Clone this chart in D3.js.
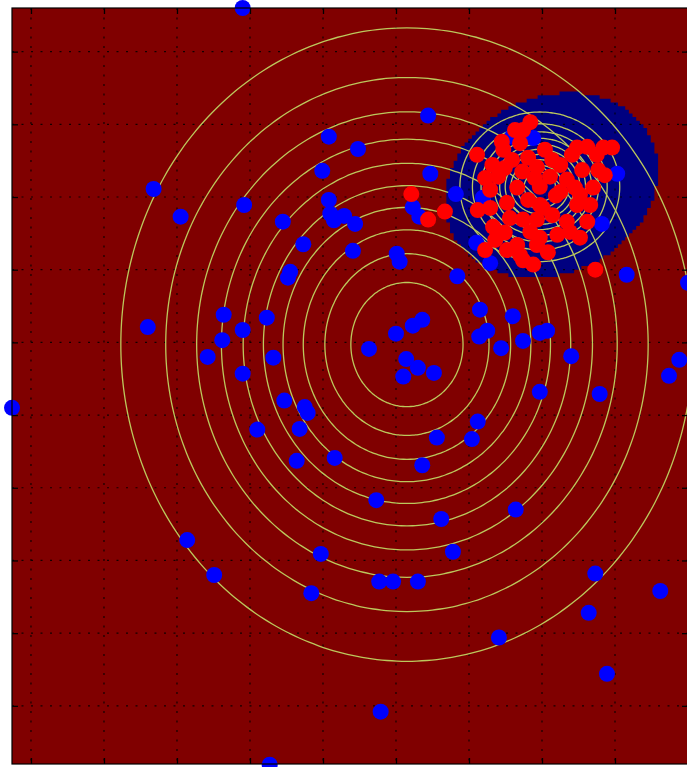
<!DOCTYPE html>
<html>
<head>
<meta charset="utf-8">
<script src="https://cdn.jsdelivr.net/npm/d3@7"></script>
<style>
  html, body { margin: 0; padding: 0; background: #ffffff; }
  svg { display: block; }
</style>
</head>
<body>
<svg id="chart" width="687" height="767"></svg>
<script>
// ---- axis setup (tick positions, no tick labels are shown) ----
const xDomain = [-0.26, 9.0];
const yDomain = [-0.8, 9.6];
const xTicks = [0, 1, 2, 3, 4, 5, 6, 7, 8, 9];
const yTicks = [0, 1, 2, 3, 4, 5, 6, 7, 8, 9];

// ---- Gaussian class models (mean, std-dev per axis) ----
const wideMean = [5.15, 4.97];
const wideSigma = [1.79, 1.99];
const tightMean = [6.97, 7.14];
const tightSigma = [0.50, 0.47];
// contour levels, as a fraction of each density's peak
const contourLevels = [0.091, 0.182, 0.274, 0.365, 0.456, 0.547, 0.638, 0.730, 0.821, 0.912];

// ---- decision region of the tight class (ellipse: centre + covariance) ----
const regionCenter = [7.13, 7.16];
const regionShape = [[2.128, 0.311], [0.311, 1.619]];
const meshStep = 0.05;

// ---- samples of the wide class ----
const blueX = [2.90, 5.44, 4.08, 4.48, 3.99, 1.68, 2.05, 2.92, 3.45, 4.08, 4.10, 4.15, 4.29, 4.44,
  3.73, 4.41, 5.01, 5.05, 3.55, 3.52, 5.47, 5.23, 5.32, 5.82, 5.84, 1.60, 2.64, 2.62, 2.90, 3.23,
  2.42, 3.32, 2.90, 4.63, 5.00, 5.23, 5.36, 5.14, 5.30, 5.10, 5.52, 6.15, 6.25, 6.14, 6.44, 6.60,
  6.74, 6.97, 7.07, 7.40, 8.88, 8.74, 7.79, 6.97, 7.73, 8.62, 8.03, 7.82, 8.16, 9.00, 6.41, 7.64,
  7.89, -0.26, 3.47, 3.75, 3.79, 3.68, 3.10, 3.64, 4.16, 4.73, 5.56, 5.36, 6.04, 6.12, 5.62, 6.64,
  5.78, 2.14, 2.51, 3.97, 3.84, 4.77, 4.96, 5.30, 4.79, 3.27, 6.59, 6.88, 6.19, 6.10, 6.29];
const blueY = [9.60, 8.12, 7.83, 7.66, 7.36, 7.11, 6.73, 6.89, 6.66, 6.96, 6.77, 6.68, 6.74, 6.63,
  6.35, 6.26, 6.22, 6.11, 5.97, 5.89, 7.32, 6.86, 6.73, 7.04, 5.91, 5.21, 5.38, 5.03, 5.17, 5.34,
  4.80, 4.79, 4.57, 4.91, 5.12, 5.23, 5.31, 4.77, 4.65, 4.53, 4.58, 5.45, 5.16, 5.08, 4.92, 5.36,
  5.02, 5.13, 5.16, 4.81, 4.76, 4.54, 4.29, 4.32, 1.82, 1.58, 7.32, 6.63, 5.93, 5.82, 0.94, 1.28,
  0.44, 4.10, 4.20, 4.11, 4.03, 3.81, 3.80, 3.37, 3.41, 2.83, 3.69, 3.31, 3.67, 3.91, 2.57, 2.70,
  2.12, 2.28, 1.80, 2.09, 1.55, 1.71, 1.71, 1.71, -0.08, -0.81, 7.83, 7.81, 6.99, 6.37, 6.09];

// ---- samples of the tight class ----
const redX = [6.84, 6.74, 6.45, 6.70, 6.11, 6.47, 7.48, 7.62, 7.84, 7.96, 6.32, 6.49, 6.73, 6.93,
  7.14, 7.41, 7.55, 7.77, 6.40, 7.11, 7.34, 7.70, 6.29, 6.66, 6.97, 7.52, 6.29, 6.52, 7.01, 7.48,
  6.33, 6.56, 6.74, 6.93, 7.34, 7.62, 6.49, 6.97, 7.21, 7.52, 6.22, 6.52, 6.66, 6.93, 6.74, 6.88,
  5.67, 7.73, 5.21, 5.44,
  7.04, 7.25, 6.81, 6.59, 7.45, 7.19, 6.81, 7.14, 7.66, 7.86, 6.84, 7.08, 6.36, 7.38, 6.90, 7.25,
  6.22, 7.75, 6.63, 6.97, 6.12, 6.70];
const redY = [8.03, 7.92, 7.76, 7.74, 7.58, 7.65, 7.68, 7.69, 7.68, 7.68, 7.44, 7.40, 7.35, 7.41,
  7.51, 7.58, 7.37, 7.37, 7.28, 7.28, 7.24, 7.13, 7.10, 7.13, 7.14, 7.03, 6.85, 6.92, 6.85, 6.89,
  6.59, 6.71, 6.69, 6.69, 6.66, 6.66, 6.51, 6.44, 6.48, 6.44, 6.27, 6.27, 6.34, 6.34, 6.13, 6.07,
  6.80, 6.00, 7.04, 6.69,
  7.65, 7.44, 7.54, 7.51, 7.13, 7.02, 6.96, 6.75, 6.89, 7.30, 6.52, 6.24, 6.41, 6.52, 7.26, 7.07,
  7.26, 7.58, 7.92, 6.89, 6.82, 6.20];

// ---- drawing ----
const svg = d3.select("#chart");
const plot = { left: 12, top: 8, right: 688, bottom: 764 };
const x = d3.scaleLinear().domain(xDomain).range([plot.left, plot.right]);
const y = d3.scaleLinear().domain(yDomain).range([plot.bottom, plot.top]);
const pw = plot.right - plot.left, ph = plot.bottom - plot.top;

svg.append("defs").append("clipPath").attr("id", "plotClip")
  .append("rect").attr("x", plot.left).attr("y", plot.top).attr("width", pw).attr("height", ph);

// class background (jet colormap ends)
svg.append("rect").attr("x", plot.left).attr("y", plot.top)
  .attr("width", pw).attr("height", ph).attr("fill", "#800000");

// tight-class region, rasterised on the mesh
const det = regionShape[0][0] * regionShape[1][1] - regionShape[0][1] * regionShape[1][0];
const inv = [[regionShape[1][1] / det, -regionShape[0][1] / det],
             [-regionShape[1][0] / det, regionShape[0][0] / det]];
const nx = Math.ceil((xDomain[1] - xDomain[0]) / meshStep);
const ny = Math.ceil((yDomain[1] - yDomain[0]) / meshStep);
const regionPath = d3.path();
for (let j = 0; j < ny; j++) {
  const y0 = yDomain[0] + j * meshStep, yc = y0 + meshStep / 2;
  let runStart = -1;
  for (let i = 0; i <= nx; i++) {
    let inside = false;
    if (i < nx) {
      const xc = xDomain[0] + (i + 0.5) * meshStep;
      const dx = xc - regionCenter[0], dy = yc - regionCenter[1];
      const q = dx * (inv[0][0] * dx + inv[0][1] * dy) + dy * (inv[1][0] * dx + inv[1][1] * dy);
      inside = q <= 1;
    }
    if (inside && runStart < 0) runStart = i;
    if (!inside && runStart >= 0) {
      const xa = x(xDomain[0] + runStart * meshStep), xb = x(xDomain[0] + i * meshStep);
      const ya = y(y0 + meshStep), yb = y(y0);
      regionPath.rect(xa, ya, xb - xa, yb - ya);
      runStart = -1;
    }
  }
}
svg.append("path").attr("d", regionPath.toString()).attr("fill", "#000080")
  .attr("clip-path", "url(#plotClip)");

// dotted grid
const grid = svg.append("g").attr("stroke", "#000").attr("stroke-width", 1.2)
  .attr("stroke-dasharray", "2,7.5").attr("opacity", 0.85);
grid.selectAll("line.vx").data(xTicks).join("line")
  .attr("x1", d => x(d)).attr("x2", d => x(d)).attr("y1", plot.top).attr("y2", plot.bottom);
grid.selectAll("line.hy").data(yTicks).join("line")
  .attr("y1", d => y(d)).attr("y2", d => y(d)).attr("x1", plot.left).attr("x2", plot.right);

// density contours of both classes
const angles = d3.range(0, 361, 2).map(a => a * Math.PI / 180);
function ring(mean, sigma, level) {
  const r = Math.sqrt(-2 * Math.log(level));
  return angles.map(t => [mean[0] + sigma[0] * r * Math.cos(t), mean[1] + sigma[1] * r * Math.sin(t)]);
}
const line = d3.line().x(d => x(d[0])).y(d => y(d[1])).curve(d3.curveCardinalClosed);
const contourG = svg.append("g").attr("clip-path", "url(#plotClip)")
  .attr("fill", "none").attr("stroke", "#bcc85c").attr("stroke-width", 1.3);
[[wideMean, wideSigma], [tightMean, tightSigma]].forEach(([m, s]) => {
  contourG.selectAll(null).data(contourLevels).join("path")
    .attr("d", lv => line(ring(m, s, lv).slice(0, -1)));
});

// samples
svg.append("g").selectAll("circle").data(blueX.map((v, i) => [v, blueY[i]])).join("circle")
  .attr("cx", d => x(d[0])).attr("cy", d => y(d[1])).attr("r", 8).attr("fill", "#0000ff");
svg.append("g").selectAll("circle").data(redX.map((v, i) => [v, redY[i]])).join("circle")
  .attr("cx", d => x(d[0])).attr("cy", d => y(d[1])).attr("r", 8).attr("fill", "#ff0000");

// inward ticks on all four sides
const tickLen = 6;
const noLabel = () => "";
svg.append("g").attr("transform", `translate(0,${plot.bottom})`)
  .call(d3.axisBottom(x).tickValues(xTicks).tickSize(-tickLen).tickSizeOuter(0).tickFormat(noLabel));
svg.append("g").attr("transform", `translate(0,${plot.top})`)
  .call(d3.axisTop(x).tickValues(xTicks).tickSize(-tickLen).tickSizeOuter(0).tickFormat(noLabel));
svg.append("g").attr("transform", `translate(${plot.left},0)`)
  .call(d3.axisLeft(y).tickValues(yTicks).tickSize(-tickLen).tickSizeOuter(0).tickFormat(noLabel));
svg.append("g").attr("transform", `translate(${plot.right},0)`)
  .call(d3.axisRight(y).tickValues(yTicks).tickSize(-tickLen).tickSizeOuter(0).tickFormat(noLabel));
svg.selectAll(".domain").remove();
svg.selectAll(".tick line").attr("stroke", "#000").attr("stroke-width", 1.3);

// frame
svg.append("rect").attr("x", plot.left).attr("y", plot.top).attr("width", pw).attr("height", ph)
  .attr("fill", "none").attr("stroke", "#000").attr("stroke-width", 1.2);
</script>
</body>
</html>
